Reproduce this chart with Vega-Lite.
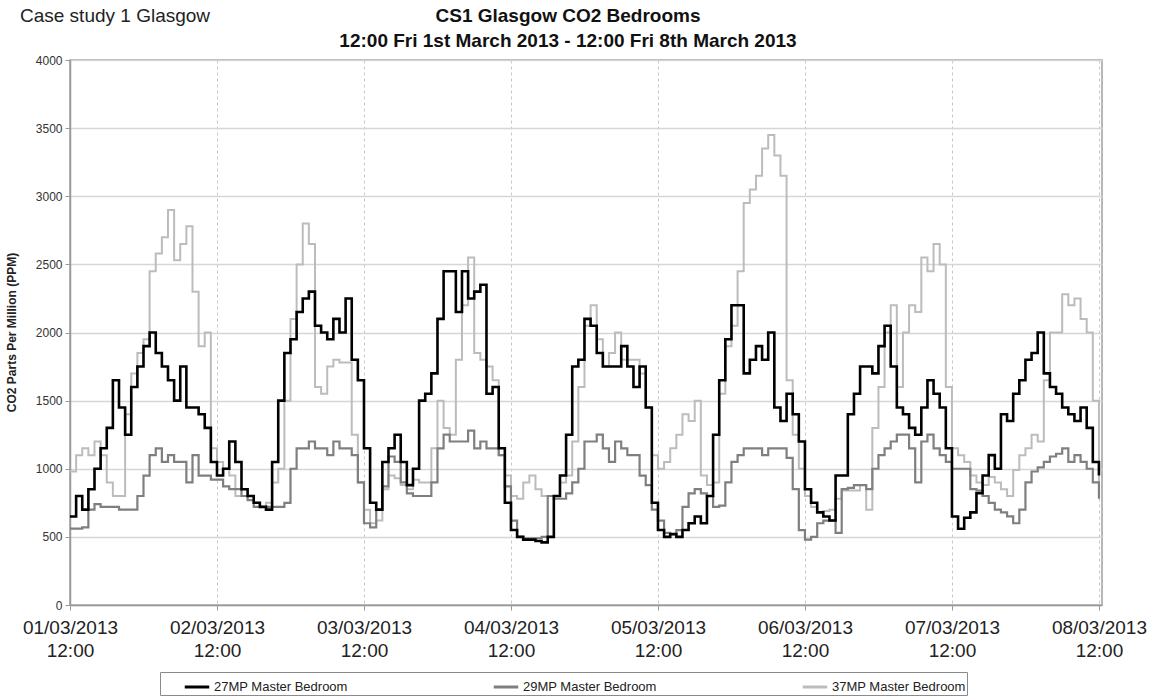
{
"$schema": "https://vega.github.io/schema/vega-lite/v6.json",
"autosize": {"type": "none"},
"padding": {"left": 70, "top": 60, "right": 50, "bottom": 93},
"width": 1032, "height": 545,
"background": "white",
"config": {"font": "Liberation Sans", "view": {"stroke": "#a0a0a0", "strokeWidth": 1.5}},
"title": {"text": ["CS1 Glasgow CO2 Bedrooms", "12:00 Fri 1st March 2013 - 12:00 Fri 8th March 2013"], "fontSize": 19, "fontWeight": "bold", "color": "#111", "lineHeight": 25, "anchor": "middle", "offset": -44, "dx": -18},
"layer": [
{
"data": {"values": [
{"t":"2013-03-01T12:00Z","27MP":650,"29MP":560,"37MP":980},
{"t":"2013-03-01T13:00Z","27MP":800,"29MP":560,"37MP":1100},
{"t":"2013-03-01T14:00Z","27MP":700,"29MP":570,"37MP":1150},
{"t":"2013-03-01T15:00Z","27MP":850,"29MP":700,"37MP":1100},
{"t":"2013-03-01T16:00Z","27MP":1000,"29MP":740,"37MP":1200},
{"t":"2013-03-01T17:00Z","27MP":1150,"29MP":720,"37MP":1100},
{"t":"2013-03-01T18:00Z","27MP":1300,"29MP":720,"37MP":900},
{"t":"2013-03-01T19:00Z","27MP":1650,"29MP":720,"37MP":800},
{"t":"2013-03-01T20:00Z","27MP":1450,"29MP":700,"37MP":800},
{"t":"2013-03-01T21:00Z","27MP":1250,"29MP":700,"37MP":1400},
{"t":"2013-03-01T22:00Z","27MP":1600,"29MP":700,"37MP":1700},
{"t":"2013-03-01T23:00Z","27MP":1750,"29MP":800,"37MP":1850},
{"t":"2013-03-02T00:00Z","27MP":1900,"29MP":950,"37MP":1950},
{"t":"2013-03-02T01:00Z","27MP":2000,"29MP":1100,"37MP":2450},
{"t":"2013-03-02T02:00Z","27MP":1850,"29MP":1150,"37MP":2580},
{"t":"2013-03-02T03:00Z","27MP":1750,"29MP":1050,"37MP":2700},
{"t":"2013-03-02T04:00Z","27MP":1650,"29MP":1100,"37MP":2900},
{"t":"2013-03-02T05:00Z","27MP":1500,"29MP":1050,"37MP":2530},
{"t":"2013-03-02T06:00Z","27MP":1750,"29MP":1050,"37MP":2650},
{"t":"2013-03-02T07:00Z","27MP":1450,"29MP":900,"37MP":2780},
{"t":"2013-03-02T08:00Z","27MP":1450,"29MP":1100,"37MP":2300},
{"t":"2013-03-02T09:00Z","27MP":1400,"29MP":950,"37MP":1900},
{"t":"2013-03-02T10:00Z","27MP":1300,"29MP":950,"37MP":2000},
{"t":"2013-03-02T11:00Z","27MP":1050,"29MP":920,"37MP":1150},
{"t":"2013-03-02T12:00Z","27MP":950,"29MP":920,"37MP":1050},
{"t":"2013-03-02T13:00Z","27MP":1000,"29MP":870,"37MP":1000},
{"t":"2013-03-02T14:00Z","27MP":1200,"29MP":850,"37MP":950},
{"t":"2013-03-02T15:00Z","27MP":1050,"29MP":850,"37MP":800},
{"t":"2013-03-02T16:00Z","27MP":850,"29MP":800,"37MP":800},
{"t":"2013-03-02T17:00Z","27MP":800,"29MP":770,"37MP":800},
{"t":"2013-03-02T18:00Z","27MP":750,"29MP":720,"37MP":750},
{"t":"2013-03-02T19:00Z","27MP":720,"29MP":720,"37MP":720},
{"t":"2013-03-02T20:00Z","27MP":700,"29MP":720,"37MP":750},
{"t":"2013-03-02T21:00Z","27MP":1050,"29MP":720,"37MP":900},
{"t":"2013-03-02T22:00Z","27MP":1500,"29MP":720,"37MP":1000},
{"t":"2013-03-02T23:00Z","27MP":1850,"29MP":750,"37MP":1500},
{"t":"2013-03-03T00:00Z","27MP":1950,"29MP":1000,"37MP":2100},
{"t":"2013-03-03T01:00Z","27MP":2150,"29MP":1150,"37MP":2500},
{"t":"2013-03-03T02:00Z","27MP":2250,"29MP":1150,"37MP":2800},
{"t":"2013-03-03T03:00Z","27MP":2300,"29MP":1200,"37MP":2650},
{"t":"2013-03-03T04:00Z","27MP":2050,"29MP":1150,"37MP":1600},
{"t":"2013-03-03T05:00Z","27MP":2000,"29MP":1150,"37MP":1550},
{"t":"2013-03-03T06:00Z","27MP":1950,"29MP":1100,"37MP":1750},
{"t":"2013-03-03T07:00Z","27MP":2100,"29MP":1200,"37MP":1800},
{"t":"2013-03-03T08:00Z","27MP":2000,"29MP":1150,"37MP":1780},
{"t":"2013-03-03T09:00Z","27MP":2250,"29MP":1150,"37MP":1780},
{"t":"2013-03-03T10:00Z","27MP":1800,"29MP":1100,"37MP":1250},
{"t":"2013-03-03T11:00Z","27MP":1650,"29MP":900,"37MP":900},
{"t":"2013-03-03T12:00Z","27MP":1150,"29MP":600,"37MP":700},
{"t":"2013-03-03T13:00Z","27MP":750,"29MP":570,"37MP":600},
{"t":"2013-03-03T14:00Z","27MP":700,"29MP":700,"37MP":620},
{"t":"2013-03-03T15:00Z","27MP":1050,"29MP":870,"37MP":850},
{"t":"2013-03-03T16:00Z","27MP":1150,"29MP":1090,"37MP":950},
{"t":"2013-03-03T17:00Z","27MP":1250,"29MP":1050,"37MP":930},
{"t":"2013-03-03T18:00Z","27MP":1050,"29MP":900,"37MP":880},
{"t":"2013-03-03T19:00Z","27MP":880,"29MP":820,"37MP":850},
{"t":"2013-03-03T20:00Z","27MP":1000,"29MP":800,"37MP":920},
{"t":"2013-03-03T21:00Z","27MP":1500,"29MP":800,"37MP":900},
{"t":"2013-03-03T22:00Z","27MP":1550,"29MP":800,"37MP":900},
{"t":"2013-03-03T23:00Z","27MP":1700,"29MP":900,"37MP":1150},
{"t":"2013-03-04T00:00Z","27MP":2100,"29MP":1150,"37MP":1500},
{"t":"2013-03-04T01:00Z","27MP":2450,"29MP":1250,"37MP":1300},
{"t":"2013-03-04T02:00Z","27MP":2450,"29MP":1200,"37MP":1250},
{"t":"2013-03-04T03:00Z","27MP":2150,"29MP":1200,"37MP":1800},
{"t":"2013-03-04T04:00Z","27MP":2450,"29MP":1200,"37MP":2200},
{"t":"2013-03-04T05:00Z","27MP":2250,"29MP":1280,"37MP":2550},
{"t":"2013-03-04T06:00Z","27MP":2300,"29MP":1150,"37MP":1850},
{"t":"2013-03-04T07:00Z","27MP":2350,"29MP":1200,"37MP":1800},
{"t":"2013-03-04T08:00Z","27MP":1550,"29MP":1150,"37MP":1750},
{"t":"2013-03-04T09:00Z","27MP":1600,"29MP":1150,"37MP":1650},
{"t":"2013-03-04T10:00Z","27MP":1150,"29MP":1100,"37MP":1100},
{"t":"2013-03-04T11:00Z","27MP":750,"29MP":870,"37MP":950},
{"t":"2013-03-04T12:00Z","27MP":550,"29MP":620,"37MP":800},
{"t":"2013-03-04T13:00Z","27MP":500,"29MP":500,"37MP":780},
{"t":"2013-03-04T14:00Z","27MP":480,"29MP":490,"37MP":900},
{"t":"2013-03-04T15:00Z","27MP":480,"29MP":490,"37MP":950},
{"t":"2013-03-04T16:00Z","27MP":470,"29MP":490,"37MP":850},
{"t":"2013-03-04T17:00Z","27MP":460,"29MP":500,"37MP":800},
{"t":"2013-03-04T18:00Z","27MP":500,"29MP":800,"37MP":800},
{"t":"2013-03-04T19:00Z","27MP":800,"29MP":780,"37MP":800},
{"t":"2013-03-04T20:00Z","27MP":950,"29MP":780,"37MP":900},
{"t":"2013-03-04T21:00Z","27MP":1250,"29MP":820,"37MP":950},
{"t":"2013-03-04T22:00Z","27MP":1750,"29MP":900,"37MP":1200},
{"t":"2013-03-04T23:00Z","27MP":1800,"29MP":1000,"37MP":1600},
{"t":"2013-03-05T00:00Z","27MP":2100,"29MP":1200,"37MP":2050},
{"t":"2013-03-05T01:00Z","27MP":2050,"29MP":1200,"37MP":2200},
{"t":"2013-03-05T02:00Z","27MP":1850,"29MP":1250,"37MP":1950},
{"t":"2013-03-05T03:00Z","27MP":1750,"29MP":1150,"37MP":1750},
{"t":"2013-03-05T04:00Z","27MP":1750,"29MP":1050,"37MP":1850},
{"t":"2013-03-05T05:00Z","27MP":1750,"29MP":1200,"37MP":2000},
{"t":"2013-03-05T06:00Z","27MP":1900,"29MP":1150,"37MP":1800},
{"t":"2013-03-05T07:00Z","27MP":1750,"29MP":1100,"37MP":1800},
{"t":"2013-03-05T08:00Z","27MP":1600,"29MP":1100,"37MP":1800},
{"t":"2013-03-05T09:00Z","27MP":1750,"29MP":950,"37MP":1700},
{"t":"2013-03-05T10:00Z","27MP":1450,"29MP":880,"37MP":1450},
{"t":"2013-03-05T11:00Z","27MP":750,"29MP":700,"37MP":1100},
{"t":"2013-03-05T12:00Z","27MP":550,"29MP":620,"37MP":1000},
{"t":"2013-03-05T13:00Z","27MP":500,"29MP":530,"37MP":1050},
{"t":"2013-03-05T14:00Z","27MP":520,"29MP":520,"37MP":1150},
{"t":"2013-03-05T15:00Z","27MP":500,"29MP":550,"37MP":1250},
{"t":"2013-03-05T16:00Z","27MP":550,"29MP":720,"37MP":1400},
{"t":"2013-03-05T17:00Z","27MP":600,"29MP":820,"37MP":1350},
{"t":"2013-03-05T18:00Z","27MP":650,"29MP":850,"37MP":1500},
{"t":"2013-03-05T19:00Z","27MP":600,"29MP":820,"37MP":950},
{"t":"2013-03-05T20:00Z","27MP":800,"29MP":800,"37MP":880},
{"t":"2013-03-05T21:00Z","27MP":1250,"29MP":720,"37MP":900},
{"t":"2013-03-05T22:00Z","27MP":1650,"29MP":730,"37MP":1550},
{"t":"2013-03-05T23:00Z","27MP":1950,"29MP":900,"37MP":1900},
{"t":"2013-03-06T00:00Z","27MP":2200,"29MP":1050,"37MP":2050},
{"t":"2013-03-06T01:00Z","27MP":2200,"29MP":1100,"37MP":2450},
{"t":"2013-03-06T02:00Z","27MP":1700,"29MP":1150,"37MP":2950},
{"t":"2013-03-06T03:00Z","27MP":1800,"29MP":1150,"37MP":3050},
{"t":"2013-03-06T04:00Z","27MP":1900,"29MP":1150,"37MP":3150},
{"t":"2013-03-06T05:00Z","27MP":1800,"29MP":1100,"37MP":3350},
{"t":"2013-03-06T06:00Z","27MP":2000,"29MP":1150,"37MP":3450},
{"t":"2013-03-06T07:00Z","27MP":1450,"29MP":1150,"37MP":3300},
{"t":"2013-03-06T08:00Z","27MP":1350,"29MP":1150,"37MP":3150},
{"t":"2013-03-06T09:00Z","27MP":1550,"29MP":1080,"37MP":1650},
{"t":"2013-03-06T10:00Z","27MP":1400,"29MP":850,"37MP":1250},
{"t":"2013-03-06T11:00Z","27MP":1200,"29MP":550,"37MP":1000},
{"t":"2013-03-06T12:00Z","27MP":850,"29MP":480,"37MP":800},
{"t":"2013-03-06T13:00Z","27MP":750,"29MP":500,"37MP":720},
{"t":"2013-03-06T14:00Z","27MP":680,"29MP":600,"37MP":680},
{"t":"2013-03-06T15:00Z","27MP":650,"29MP":620,"37MP":690},
{"t":"2013-03-06T16:00Z","27MP":620,"29MP":620,"37MP":700},
{"t":"2013-03-06T17:00Z","27MP":950,"29MP":530,"37MP":780},
{"t":"2013-03-06T18:00Z","27MP":950,"29MP":850,"37MP":840},
{"t":"2013-03-06T19:00Z","27MP":1400,"29MP":860,"37MP":840},
{"t":"2013-03-06T20:00Z","27MP":1550,"29MP":880,"37MP":840},
{"t":"2013-03-06T21:00Z","27MP":1750,"29MP":880,"37MP":880},
{"t":"2013-03-06T22:00Z","27MP":1750,"29MP":850,"37MP":700},
{"t":"2013-03-06T23:00Z","27MP":1700,"29MP":1000,"37MP":1300},
{"t":"2013-03-07T00:00Z","27MP":1900,"29MP":1100,"37MP":1600},
{"t":"2013-03-07T01:00Z","27MP":2050,"29MP":1150,"37MP":2000},
{"t":"2013-03-07T02:00Z","27MP":1750,"29MP":1200,"37MP":2200},
{"t":"2013-03-07T03:00Z","27MP":1450,"29MP":1250,"37MP":1600},
{"t":"2013-03-07T04:00Z","27MP":1400,"29MP":1250,"37MP":2000},
{"t":"2013-03-07T05:00Z","27MP":1300,"29MP":1150,"37MP":2200},
{"t":"2013-03-07T06:00Z","27MP":1250,"29MP":900,"37MP":2150},
{"t":"2013-03-07T07:00Z","27MP":1450,"29MP":1200,"37MP":2550},
{"t":"2013-03-07T08:00Z","27MP":1650,"29MP":1250,"37MP":2450},
{"t":"2013-03-07T09:00Z","27MP":1550,"29MP":1150,"37MP":2650},
{"t":"2013-03-07T10:00Z","27MP":1450,"29MP":1100,"37MP":2500},
{"t":"2013-03-07T11:00Z","27MP":1150,"29MP":1050,"37MP":1600},
{"t":"2013-03-07T12:00Z","27MP":650,"29MP":1000,"37MP":1150},
{"t":"2013-03-07T13:00Z","27MP":560,"29MP":1000,"37MP":1100},
{"t":"2013-03-07T14:00Z","27MP":640,"29MP":1000,"37MP":1050},
{"t":"2013-03-07T15:00Z","27MP":680,"29MP":850,"37MP":950},
{"t":"2013-03-07T16:00Z","27MP":820,"29MP":840,"37MP":900},
{"t":"2013-03-07T17:00Z","27MP":950,"29MP":800,"37MP":880},
{"t":"2013-03-07T18:00Z","27MP":1100,"29MP":750,"37MP":940},
{"t":"2013-03-07T19:00Z","27MP":1000,"29MP":700,"37MP":900},
{"t":"2013-03-07T20:00Z","27MP":1400,"29MP":680,"37MP":850},
{"t":"2013-03-07T21:00Z","27MP":1350,"29MP":650,"37MP":800},
{"t":"2013-03-07T22:00Z","27MP":1550,"29MP":600,"37MP":990},
{"t":"2013-03-07T23:00Z","27MP":1650,"29MP":700,"37MP":1100},
{"t":"2013-03-08T00:00Z","27MP":1800,"29MP":900,"37MP":1150},
{"t":"2013-03-08T01:00Z","27MP":1850,"29MP":980,"37MP":1250},
{"t":"2013-03-08T02:00Z","27MP":2000,"29MP":1010,"37MP":1200},
{"t":"2013-03-08T03:00Z","27MP":1700,"29MP":1050,"37MP":1650},
{"t":"2013-03-08T04:00Z","27MP":1600,"29MP":1090,"37MP":2000},
{"t":"2013-03-08T05:00Z","27MP":1550,"29MP":1110,"37MP":2000},
{"t":"2013-03-08T06:00Z","27MP":1450,"29MP":1150,"37MP":2280},
{"t":"2013-03-08T07:00Z","27MP":1400,"29MP":1050,"37MP":2200},
{"t":"2013-03-08T08:00Z","27MP":1350,"29MP":1100,"37MP":2250},
{"t":"2013-03-08T09:00Z","27MP":1450,"29MP":1050,"37MP":2100},
{"t":"2013-03-08T10:00Z","27MP":1300,"29MP":1000,"37MP":2000},
{"t":"2013-03-08T11:00Z","27MP":1050,"29MP":900,"37MP":1500},
{"t":"2013-03-08T12:00Z","27MP":950,"29MP":780,"37MP":900}
]},
"transform": [{"fold": ["27MP", "29MP", "37MP"], "as": ["room", "ppm"]}],
"encoding": {
  "x": {"field": "t", "type": "temporal",
        "scale": {"type": "utc", "domain": [{"year": 2013, "month": 3, "date": 1, "hours": 12, "utc": true}, {"year": 2013, "month": 3, "date": 8, "hours": 12, "minutes": 30, "utc": true}]},
        "axis": {"title": null,
                 "values": [
                   {"year": 2013, "month": 3, "date": 1, "hours": 12, "utc": true},
                   {"year": 2013, "month": 3, "date": 2, "hours": 12, "utc": true},
                   {"year": 2013, "month": 3, "date": 3, "hours": 12, "utc": true},
                   {"year": 2013, "month": 3, "date": 4, "hours": 12, "utc": true},
                   {"year": 2013, "month": 3, "date": 5, "hours": 12, "utc": true},
                   {"year": 2013, "month": 3, "date": 6, "hours": 12, "utc": true},
                   {"year": 2013, "month": 3, "date": 7, "hours": 12, "utc": true},
                   {"year": 2013, "month": 3, "date": 8, "hours": 12, "utc": true}],
                 "labelExpr": "[utcFormat(datum.value, '%d/%m/%Y'), '12:00']",
                 "grid": true, "gridDash": [3, 3], "gridColor": "#c8c8c8", "gridWidth": 1,
                 "domainColor": "#9a9a9a", "domainWidth": 1.5, "tickColor": "#9a9a9a", "tickSize": 5,
                 "labelFontSize": 19, "labelColor": "#222", "labelPadding": 8, "labelLineHeight": 23,
                 "labelFlush": false, "labelOverlap": false, "labelBound": false}},
  "y": {"field": "ppm", "type": "quantitative",
        "scale": {"domain": [0, 4000]},
        "axis": {"values": [0, 500, 1000, 1500, 2000, 2500, 3000, 3500, 4000], "format": "d",
                 "grid": true, "gridColor": "#d6d6d6", "gridWidth": 1.5,
                 "domainColor": "#9a9a9a", "domainWidth": 1.5, "tickColor": "#9a9a9a", "tickSize": 5,
                 "labelFontSize": 12, "labelColor": "#333", "labelPadding": 3,
                 "title": "CO2 Parts Per Million (PPM)", "titleFontSize": 12, "titleFontWeight": "bold", "titleColor": "#222",
                 "titleX": -52, "titleY": 272}},
  "color": {"field": "room", "type": "nominal",
            "scale": {"domain": ["27MP", "29MP", "37MP"], "range": ["#000000", "#7f7f7f", "#bcbcbc"]},
            "legend": {"orient": "none", "legendX": 90, "legendY": 612, "direction": "horizontal", "columns": 3,
                       "title": null, "symbolType": "stroke", "symbolSize": 600, "symbolStrokeWidth": 3,
                       "labelFontSize": 13, "labelColor": "#222", "labelOffset": 3,
                       "labelExpr": "datum.label + ' Master Bedroom'",
                       "strokeColor": "#8a8a8a", "padding": 1, "columnPadding": 122, "symbolOffset": 22}}
},
"layer": [
  {"transform": [{"filter": "datum.room == '37MP'"}], "mark": {"type": "line", "interpolate": "step-after", "strokeWidth": 2}},
  {"transform": [{"filter": "datum.room == '29MP'"}], "mark": {"type": "line", "interpolate": "step-after", "strokeWidth": 2.2}},
  {"transform": [{"filter": "datum.room == '27MP'"}], "mark": {"type": "line", "interpolate": "step-after", "strokeWidth": 2.6}}
]
},
{
"data": {"values": [{"label": "Case study 1 Glasgow"}]},
"mark": {"type": "text", "align": "left", "baseline": "middle", "fontSize": 19, "color": "#222", "clip": false},
"encoding": {
  "text": {"field": "label", "type": "nominal"},
  "x": {"datum": {"year": 2013, "month": 3, "date": 1, "hours": 3, "minutes": 50, "utc": true}, "type": "temporal"},
  "y": {"datum": 4320, "type": "quantitative"}
}
}
]
}
